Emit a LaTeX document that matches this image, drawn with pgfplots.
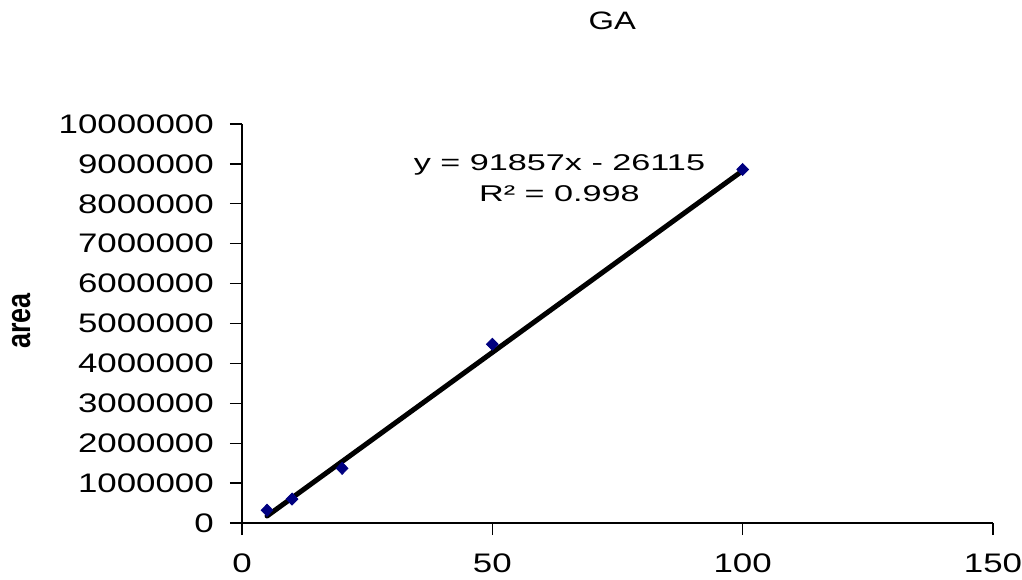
\documentclass[border=0pt]{standalone}
\usepackage{fontspec}
\setmainfont{Liberation Sans}[FakeStretch=1.3]
\newfontfamily\uprightsans{Liberation Sans}
\newfontfamily\widesans{Liberation Sans}[FakeStretch=1.5]
\usepackage{graphicx}
\usepackage{pgfplots}
\pgfplotsset{compat=1.18}

\definecolor{markblue}{RGB}{0,0,128}

\begin{document}
\begin{tikzpicture}
\path[use as bounding box] (-121pt,-28pt) rectangle (390pt,261.5pt);
\begin{axis}[
  at={(0,0)}, anchor=south west,
  scale only axis, width=375.5pt, height=199.5pt,
  xmin=0, xmax=150, ymin=0, ymax=10000000,
  axis x line*=bottom, axis y line*=left,
  axis line style={-, line width=0.65pt, black},
  xtick={0,50,100,150},
  ytick={0,1000000,...,10000000},
  tick align=outside, major tick length=6pt,
  tick style={line width=0.65pt, black},
  scaled y ticks=false,
  /pgf/number format/assume math mode=true,
  yticklabel style={/pgf/number format/fixed, /pgf/number format/1000 sep={},
    font=\fontsize{13.4}{15}\selectfont, xshift=-4.6pt},
  xticklabel style={font=\fontsize{13.4}{15}\selectfont, yshift=-6pt},
  ylabel={\scalebox{1}[1.25]{\uprightsans\bfseries area}},
  ylabel style={at={(rel axis cs:-0.293,0.506)}, anchor=center, font=\fontsize{13.5}{16}\selectfont},
  title={GA},
  title style={at={(rel axis cs:0.493,1.228)}, anchor=center, font=\fontsize{12.6}{14}\selectfont},
  clip=false,
]
% calibration points
\addplot[only marks, mark=diamond*, mark size=3pt,
  mark options={xscale=1.3, fill=markblue, draw=markblue}]
  coordinates {(5,320000) (10,600000) (20,1370000) (50,4480000) (100,8860000)};
% linear trendline
\addplot[black, line width=2.5pt, line cap=round]
  coordinates {(5,175000) (100,8830000)};
\node[align=center, font=\widesans\fontsize{11.4}{15.5}\selectfont] at (axis cs:63.4,8650000)
  {y = 91857x - 26115\\R² = 0.998};
\end{axis}
\end{tikzpicture}
\end{document}
